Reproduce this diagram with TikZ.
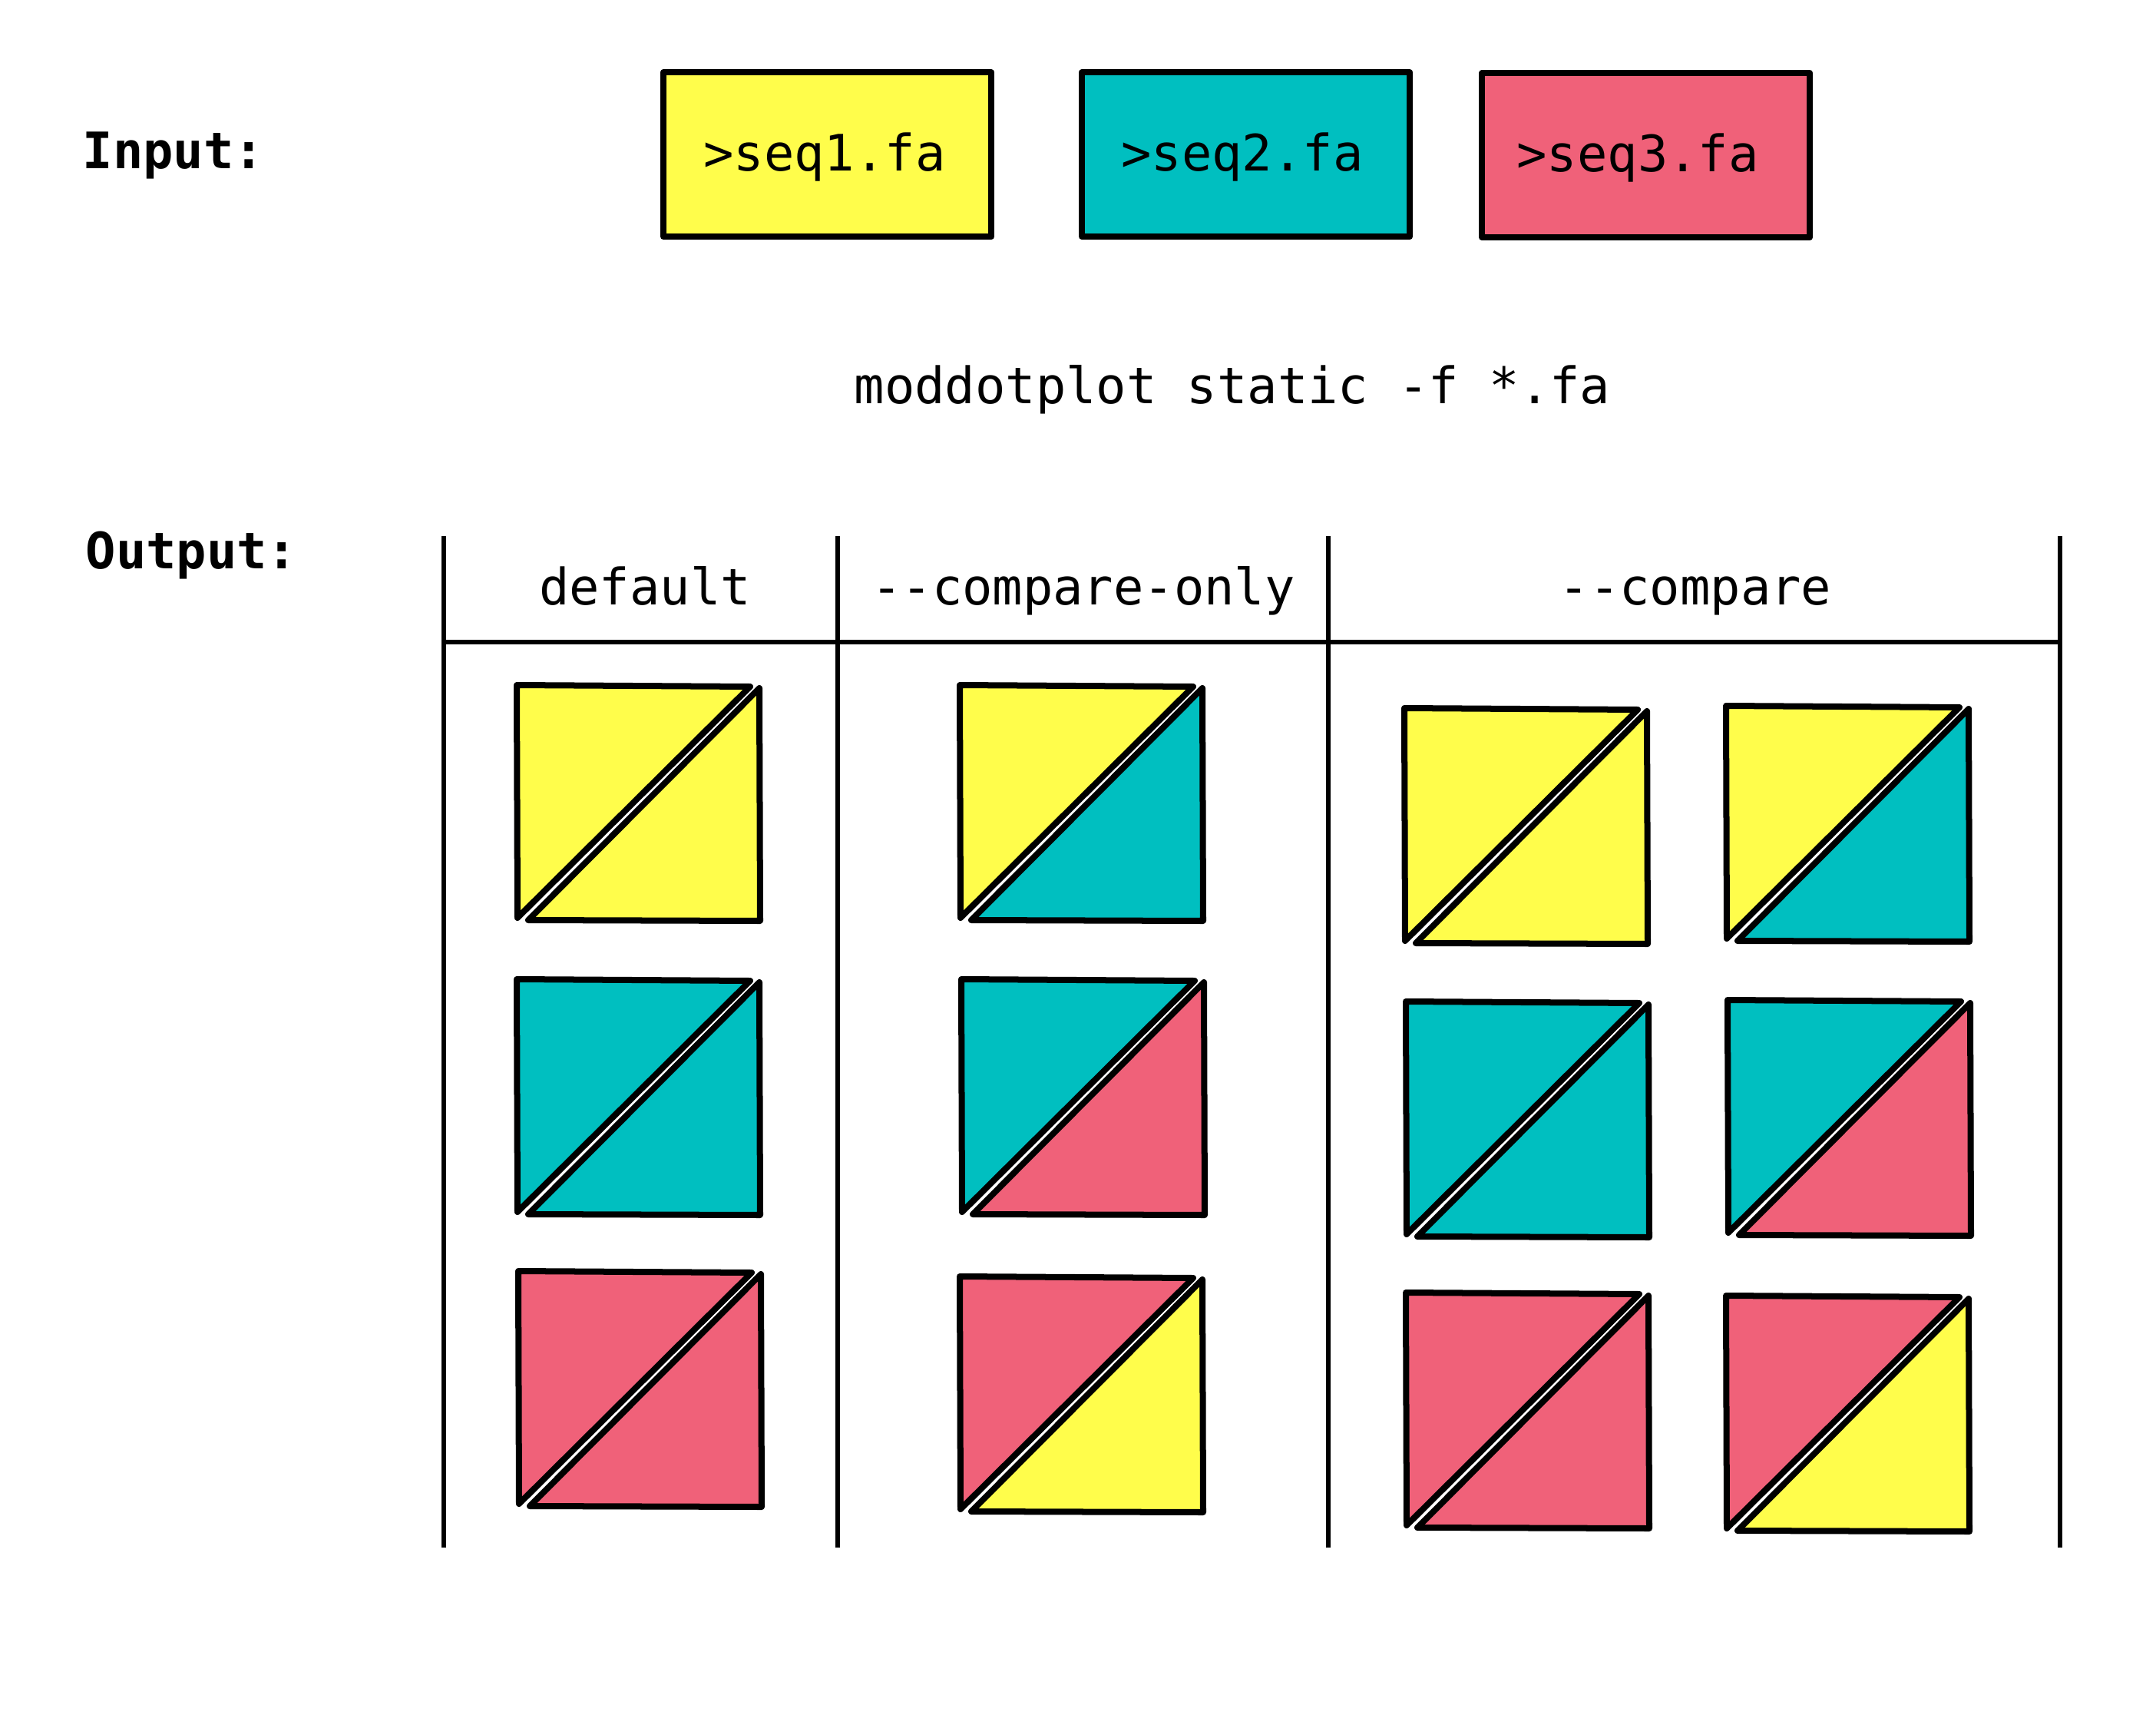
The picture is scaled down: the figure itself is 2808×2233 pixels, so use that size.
\documentclass[tikz,border=0pt]{standalone}
\usepackage{fontspec}
\setmonofont{DejaVu Sans Mono}
\definecolor{cyel}{RGB}{255,253,75}
\definecolor{ccya}{RGB}{0,191,192}
\definecolor{cred}{RGB}{240,97,121}
\tikzset{
  txt/.style={font=\ttfamily\fontsize{18.6}{22}\selectfont, inner sep=0pt},
  btxt/.style={txt, font=\ttfamily\bfseries\fontsize{18.6}{22}\selectfont},
  inbox/.style={draw=black, line width=0.08cm, line join=round, minimum width=4.27cm, minimum height=2.14cm, inner sep=0pt, anchor=north west},
  tri/.style={draw=black, line width=0.08cm, line join=round, line cap=round},
  grid/.style={line width=0.065cm}
}
\newcommand{\halfsq}[4]{%
  \filldraw[tri, fill=#3] (#1,#2) -- ++(304,2) -- ++(-303,301) -- cycle;
  \filldraw[tri, fill=#4] (#1+316,#2+4) -- ++(1,303) -- ++(-302,-1) -- cycle;
}
\begin{document}
\begin{tikzpicture}[x=0.01cm, y=-0.01cm]
\useasboundingbox (0,0) rectangle (2808,2233);
% labels
\node[btxt, anchor=base west] (inlab) at (107,219) {Input:};
\node[btxt, anchor=base west] (outlab) at (111,740) {Output:};
% input boxes
\node[inbox, fill=cyel] (b1) at (860,90) {};
\node[inbox, fill=ccya] (b2) at (1405,90) {};
\node[inbox, fill=cred] (b3) at (1926,91) {};
\node[txt, anchor=base] (t1) at (1074,222) {>seq1.fa};
\node[txt, anchor=base] (t2) at (1618,222) {>seq2.fa};
\node[txt, anchor=base] (t3) at (2133,223) {>seq3.fa};
% command
\node[txt, anchor=base] (cmd) at (1605,525) {moddotplot static -f *.fa};
% table
\coordinate (v1t) at (578,698); \coordinate (v1b) at (578,2015);
\coordinate (v2t) at (1091,698); \coordinate (v2b) at (1091,2015);
\coordinate (v3t) at (1730,698); \coordinate (v3b) at (1730,2015);
\coordinate (v4t) at (2683,698); \coordinate (v4b) at (2683,2015);
\coordinate (hl) at (578,836); \coordinate (hr) at (2683,836);
\draw[grid] (v1t) -- (v1b);
\draw[grid] (v2t) -- (v2b);
\draw[grid] (v3t) -- (v3b);
\draw[grid] (v4t) -- (v4b);
\draw[grid] (hl) -- (hr);
\node[txt, anchor=base] (h1) at (840,787) {default};
\node[txt, anchor=base] (h2) at (1411,787) {-{}-compare-only};
\node[txt, anchor=base] (h3) at (2208,787) {-{}-compare};
% squares: default
\halfsq{673}{892}{cyel}{cyel}
\halfsq{673}{1275}{ccya}{ccya}
\halfsq{675}{1655}{cred}{cred}
% compare-only
\halfsq{1250}{892}{cyel}{ccya}
\halfsq{1252}{1275}{ccya}{cred}
\halfsq{1250}{1662}{cred}{cyel}
% compare left
\halfsq{1829}{922}{cyel}{cyel}
\halfsq{1831}{1304}{ccya}{ccya}
\halfsq{1831}{1683}{cred}{cred}
% compare right
\halfsq{2248}{919}{cyel}{ccya}
\halfsq{2250}{1302}{ccya}{cred}
\halfsq{2248}{1687}{cred}{cyel}
\end{tikzpicture}
\end{document}
